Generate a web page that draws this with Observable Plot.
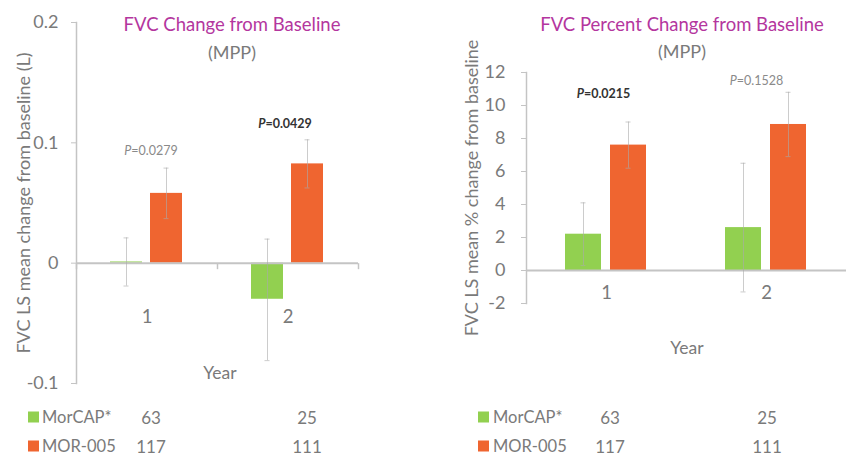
<!DOCTYPE html>
<html>
<head>
<meta charset="utf-8">
<script src="https://cdn.jsdelivr.net/npm/d3@7"></script>
<script src="https://cdn.jsdelivr.net/npm/@observablehq/plot@0.6"></script>
<style>
  body { margin: 0; background: #fff; }
  #fig { position: relative; width: 846px; height: 456px; overflow: hidden; background: #fff;
         font-family: Lato, "Open Sans", sans-serif; color: #7a7a7a; }
  #fig svg { position: absolute; }
  .lbl { position: absolute; white-space: nowrap; line-height: 1; transform: translate(-50%, -50%); }
  .title { color: #b4369e; font-size: 18.5px; }
  .sub { font-size: 18px; color: #7a7a7a; }
  .axisname { font-size: 17.5px; color: #7a7a7a; }
  .leg { position: absolute; white-space: nowrap; line-height: 1; transform: translateY(-50%); font-size: 16.5px; color: #7a7a7a; }
  .sw { position: absolute; width: 11px; height: 11px; transform: translateY(-50%); }
  .num { position: absolute; white-space: nowrap; line-height: 1; transform: translate(-50%, -50%); font-size: 17px; color: #7a7a7a; }
</style>
</head>
<body>
<div id="fig"></div>
<script>
// Study years and treatment groups
const years = [1, 2];
const series = ["MorCAP*", "MOR-005"];

// FVC change from baseline (L): LS mean with error-bar limits
const changeMorCAP = [0.001, -0.030];
const changeMorCAPLo = [-0.019, -0.081];
const changeMorCAPHi = [0.021, 0.020];
const changeMOR005 = [0.058, 0.0825];
const changeMOR005Lo = [0.037, 0.0625];
const changeMOR005Hi = [0.079, 0.1025];
const changeP = ["0.0279", "0.0429"];
const changeTicks = [-0.1, 0, 0.1, 0.2];

// FVC percent change from baseline: LS mean with error-bar limits
const pctMorCAP = [2.2, 2.6];
const pctMorCAPLo = [0.3, -1.3];
const pctMorCAPHi = [4.1, 6.5];
const pctMOR005 = [7.6, 8.85];
const pctMOR005Lo = [6.2, 6.9];
const pctMOR005Hi = [9.0, 10.8];
const pctP = ["0.0215", "0.1528"];
const pctTicks = [-2, 0, 2, 4, 6, 8, 10, 12];

// Patients per group and year
const nMorCAP = [63, 25];
const nMOR005 = [117, 111];

const FONT = "Lato, 'Open Sans', sans-serif";
const GREEN = "#92d050";
const ORANGE = "#ef6530";
const AXIS = "#c4c4c4";
const TEXT = "#7a7a7a";

function toRows(a, aLo, aHi, b, bLo, bHi) {
  const rows = [];
  years.forEach((year, i) => {
    rows.push({year, series: series[0], value: a[i], lo: aLo[i], hi: aHi[i]});
    rows.push({year, series: series[1], value: b[i], lo: bLo[i], hi: bHi[i]});
  });
  return rows;
}

function toPRows(pvals, aHi, bHi) {
  return years.map((year, i) => ({year, p: pvals[i], top: Math.max(aHi[i], bHi[i])}));
}

// a short downward tick used to mark category boundaries on the zero line
const tickDown = {draw(ctx) { ctx.moveTo(0, 0); ctx.lineTo(0, 6); }};

function panel(cfg) {
  const marks = [
    Plot.frame({anchor: "left", stroke: AXIS, strokeWidth: 1.5, facetAnchor: "left"}),
    Plot.axisY({
      ticks: cfg.ticks, tickFormat: d => String(d), tickSize: 5, tickPadding: cfg.tickPadding,
      fontSize: 18, stroke: AXIS, fill: TEXT,
      label: cfg.yLabel, labelAnchor: "center", labelArrow: "none", labelOffset: cfg.labelOffset
    }),
    Plot.barY(cfg.rows, {fx: "year", x: "series", y: "value", fill: "series"}),
    Plot.ruleY([0], {stroke: AXIS, strokeWidth: 2}),
    Plot.ruleX(cfg.rows, {fx: "year", x: "series", y1: "lo", y2: "hi", stroke: "#aaaaaa", strokeOpacity: 0.6}),
    Plot.tickY(cfg.rows, {fx: "year", x: "series", y: "lo", stroke: "#aaaaaa", strokeOpacity: 0.6, insetLeft: cfg.capInset, insetRight: cfg.capInset}),
    Plot.tickY(cfg.rows, {fx: "year", x: "series", y: "hi", stroke: "#aaaaaa", strokeOpacity: 0.6, insetLeft: cfg.capInset, insetRight: cfg.capInset}),
    Plot.text(years, {fx: d => d, text: d => String(d), frameAnchor: "bottom", dy: cfg.catDy, fontSize: 18.5, fill: TEXT})
  ];
  if (cfg.boundaryTicks) {
    marks.push(Plot.dot(years, {fx: d => d, y: () => 0, frameAnchor: "left", symbol: tickDown, stroke: AXIS, strokeWidth: 1.5, fill: "none"}));
    marks.push(Plot.dot(years.slice(-1), {fx: d => d, y: () => 0, frameAnchor: "right", symbol: tickDown, stroke: AXIS, strokeWidth: 1.5, fill: "none"}));
  }
  cfg.pRows.forEach((r, i) => {
    const look = cfg.pStyle[i];
    marks.push(Plot.text([r], {
      fx: "year", y: "top", text: d => "P=" + d.p, dx: look.dx, dy: look.dy,
      fontSize: 12.5, fontWeight: look.bold ? "bold" : "normal", fill: look.bold ? "#333333" : "#8a8a8a"
    }));
  });

  const svg = Plot.plot({
    width: cfg.width, height: cfg.height,
    marginLeft: cfg.ml, marginRight: cfg.mr, marginTop: cfg.mt, marginBottom: cfg.mb,
    style: {fontFamily: FONT, background: "transparent", overflow: "visible", color: TEXT},
    fx: {domain: years, padding: 0, axis: null},
    x: {domain: series, paddingInner: 0.19, paddingOuter: 0.84, axis: null},
    y: {domain: [cfg.ticks[0], cfg.ticks[cfg.ticks.length - 1]], axis: null},
    color: {domain: series, range: [GREEN, ORANGE]},
    marks
  });
  // italic P in the p-value annotations
  svg.querySelectorAll("text").forEach(t => {
    const s = t.textContent;
    if (/^P=/.test(s) && t.childElementCount === 0) {
      t.textContent = "";
      const ital = document.createElementNS("http://www.w3.org/2000/svg", "tspan");
      ital.setAttribute("font-style", "italic");
      ital.textContent = "P";
      t.appendChild(ital);
      t.appendChild(document.createTextNode(s.slice(1)));
    }
  });
  svg.style.left = cfg.left + "px";
  svg.style.top = cfg.top + "px";
  return svg;
}

const fig = document.getElementById("fig");

fig.appendChild(panel({
  left: 0, top: 0, width: 420, height: 400, ml: 75, mr: 62, mt: 22, mb: 17,
  ticks: changeTicks, tickPadding: 13, labelOffset: 59, capInset: 13.5, catDy: -61,
  yLabel: "FVC LS mean change from baseline (L)", boundaryTicks: true,
  rows: toRows(changeMorCAP, changeMorCAPLo, changeMorCAPHi, changeMOR005, changeMOR005Lo, changeMOR005Hi),
  pRows: toPRows(changeP, changeMorCAPHi, changeMOR005Hi),
  pStyle: [{dx: 4, dy: -17, bold: false}, {dx: -3, dy: -16, bold: true}]
}));

fig.appendChild(panel({
  left: 420, top: 0, width: 426, height: 320, ml: 105, mr: 0, mt: 72, mb: 17,
  ticks: pctTicks, tickPadding: 16, labelOffset: 61, capInset: 15.5, catDy: -5,
  yLabel: "FVC LS mean % change from baseline", boundaryTicks: false,
  rows: toRows(pctMorCAP, pctMorCAPLo, pctMorCAPHi, pctMOR005, pctMOR005Lo, pctMOR005Hi),
  pRows: toPRows(pctP, pctMorCAPHi, pctMOR005Hi),
  pStyle: [{dx: -3, dy: -28, bold: true}, {dx: -10, dy: -11, bold: false}]
}));

// titles, axis names and group sizes
function label(cls, text, x, y) {
  const d = document.createElement("div");
  d.className = "lbl " + cls;
  d.textContent = text;
  d.style.left = x + "px";
  d.style.top = y + "px";
  fig.appendChild(d);
}
label("title", "FVC Change from Baseline", 232, 24);
label("sub", "(MPP)", 232, 52);
label("title", "FVC Percent Change from Baseline", 682, 24);
label("sub", "(MPP)", 682, 51);
label("axisname", "Year", 220, 373);
label("axisname", "Year", 687, 348);

function legend(swX, textX, colX) {
  const groups = [{name: series[0], color: GREEN, n: nMorCAP, y: 417}, {name: series[1], color: ORANGE, n: nMOR005, y: 446}];
  groups.forEach(g => {
    const sw = document.createElement("div");
    sw.className = "sw";
    sw.style.background = g.color;
    sw.style.left = swX + "px";
    sw.style.top = g.y + "px";
    fig.appendChild(sw);
    const t = document.createElement("div");
    t.className = "leg";
    t.textContent = g.name;
    t.style.left = textX + "px";
    t.style.top = g.y + "px";
    fig.appendChild(t);
    g.n.forEach((n, i) => {
      const c = document.createElement("div");
      c.className = "num";
      c.textContent = String(n);
      c.style.left = colX[i] + "px";
      c.style.top = g.y + "px";
      fig.appendChild(c);
    });
  });
}
legend(28, 42, [151, 307]);
legend(478, 493, [610, 767]);
</script>
</body>
</html>
